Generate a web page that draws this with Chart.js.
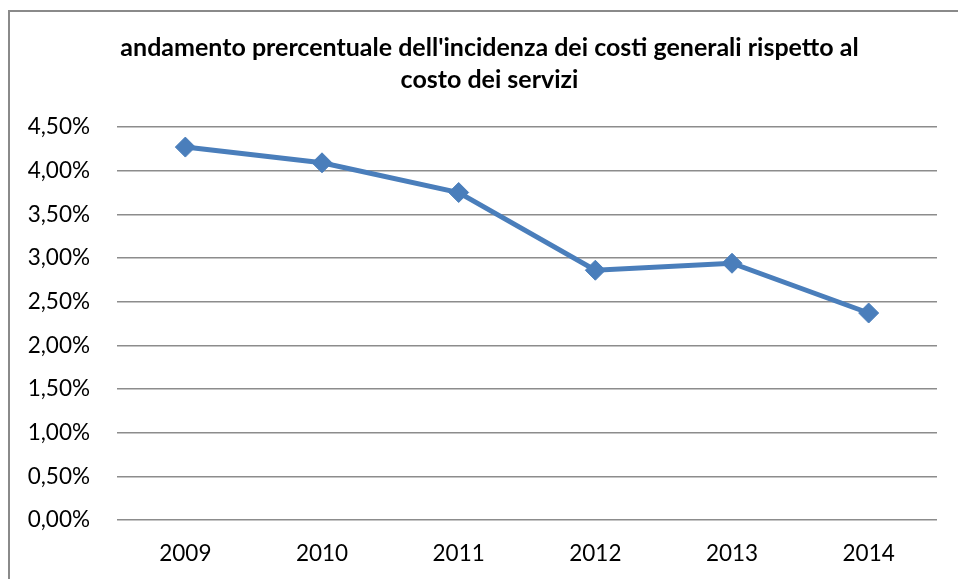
<!DOCTYPE html>
<html>
<head>
<meta charset="utf-8">
<script src="https://cdn.jsdelivr.net/npm/chart.js@4/dist/chart.umd.min.js"></script>
<style>
    html, body { margin: 0; padding: 0; background: #fff; }
    #frame {
        position: absolute; left: 8px; top: 10px; width: 950px; height: 569px;
        border-left: 2px solid #8a8a8a; border-top: 2px solid #8a8a8a;
        box-sizing: border-box;
    }
    #wrap { position: absolute; left: 0; top: 0; width: 948px; height: 567px; }
</style>
</head>
<body>
<div id="frame"><div id="wrap"><canvas id="chart"></canvas></div></div>
<script>
// Data (percent values)
const years = ['2009', '2010', '2011', '2012', '2013', '2014'];
const incidenza = [4.27, 4.09, 3.75, 2.86, 2.94, 2.37];
const titleLines = ["andamento prercentuale dell'incidenza dei costi generali rispetto al", 'costo dei servizi'];
const yMin = 0, yMax = 4.5, yStep = 0.5;

const blue = '#4a7ebb';
const gridGray = '#8c8c8c';
const font = 'Lato, "Open Sans", sans-serif';

// title drawn by hand: Excel centers it a bit right of the canvas middle
const excelTitle = {
    id: 'excelTitle',
    afterDraw(chart) {
        const ctx = chart.ctx;
        ctx.save();
        ctx.fillStyle = '#000';
        ctx.font = 'bold 25px ' + font;
        ctx.textAlign = 'center';
        ctx.textBaseline = 'middle';
        titleLines.forEach((t, i) => ctx.fillText(t, 479.5, 36 + i * 32));
        ctx.restore();
    }
};

new Chart(document.getElementById('chart'), {
    type: 'line',
    data: {
        labels: years,
        datasets: [{
            data: incidenza,
            borderColor: blue,
            backgroundColor: blue,
            borderWidth: 5,
            pointStyle: 'rectRot',
            pointRadius: 10,
            pointHoverRadius: 10,
            pointBorderWidth: 1,
            tension: 0
        }]
    },
    plugins: [excelTitle],
    options: {
        responsive: true,
        maintainAspectRatio: false,
        animation: false,
        layout: { padding: { left: 0, right: 21, top: 115, bottom: 0 } },
        plugins: {
            legend: { display: false },
            tooltip: { enabled: false },
            title: { display: false }
        },
        scales: {
            x: {
                offset: true,
                grid: { display: false, drawTicks: false },
                border: { display: false },
                ticks: { color: '#000', font: { family: font, size: 22.5 }, padding: 20 },
                afterFit: s => { s.height = 59; }
            },
            y: {
                min: yMin, max: yMax,
                grid: { color: gridGray, lineWidth: 1.5, drawTicks: false },
                border: { display: false },
                ticks: {
                    stepSize: yStep,
                    color: '#000',
                    font: { family: font, size: 22.5 },
                    padding: 27,
                    callback: v => v.toFixed(2).replace('.', ',') + '%'
                },
                afterFit: s => { s.width = 107; }
            }
        }
    }
});
</script>
</body>
</html>
